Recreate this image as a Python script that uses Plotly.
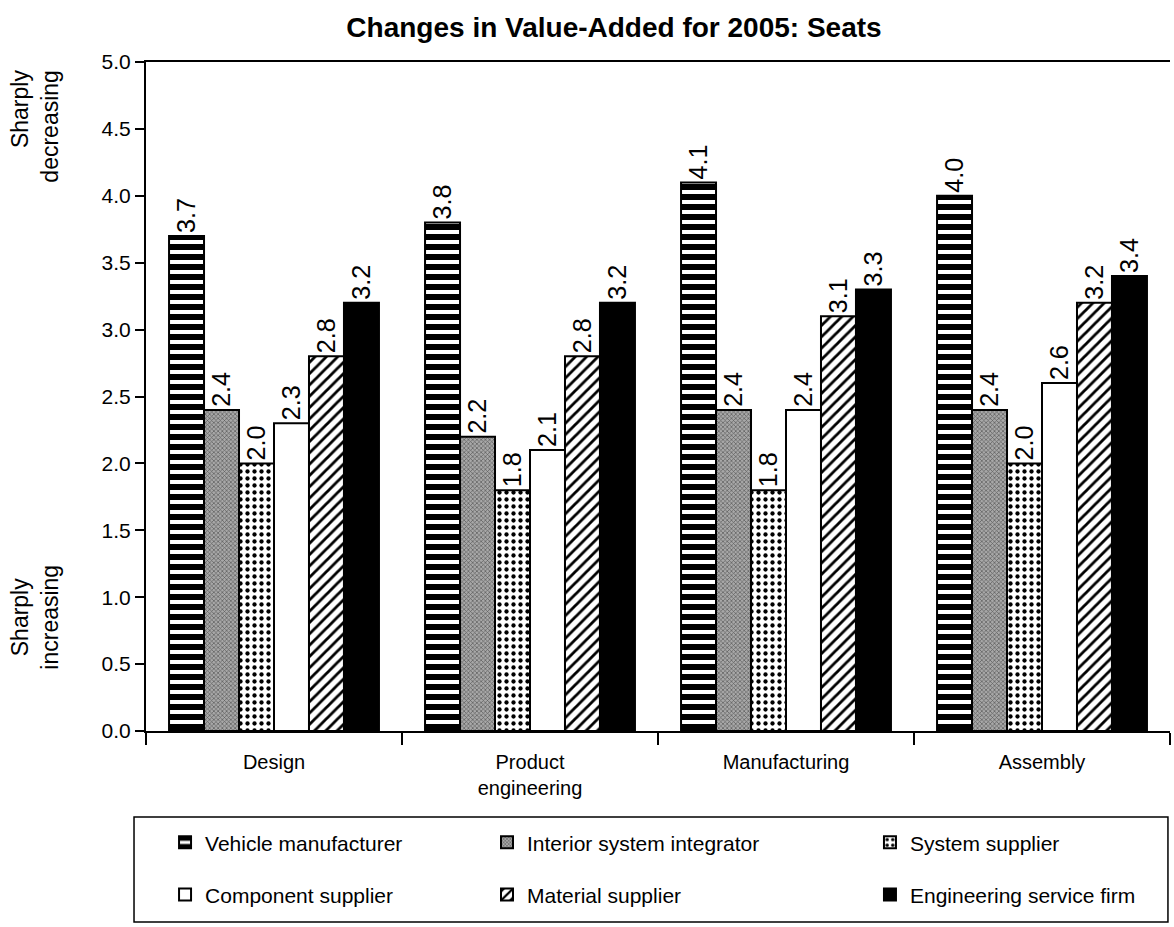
import plotly.graph_objects as go

# Value-chain stages shown on the x axis
stages = ["Design", "Product<br>engineering", "Manufacturing", "Assembly"]

# Mean ratings per actor (1 = sharply increasing ... 5 = sharply decreasing)
vehicle_manufacturer = [3.7, 3.8, 4.1, 4.0]
interior_system_integrator = [2.4, 2.2, 2.4, 2.4]
system_supplier = [2.0, 1.8, 1.8, 2.0]
component_supplier = [2.3, 2.1, 2.4, 2.6]
material_supplier = [2.8, 2.8, 3.1, 3.2]
engineering_service_firm = [3.2, 3.2, 3.3, 3.4]

y_ticks = [0.0, 0.5, 1.0, 1.5, 2.0, 2.5, 3.0, 3.5, 4.0, 4.5, 5.0]

FONT = "Liberation Sans, Arial, Helvetica, sans-serif"
TITLE_FONT = "Liberation Sans Narrow, Arial Narrow, Liberation Sans, sans-serif"

series = [
    ("Vehicle manufacturer", vehicle_manufacturer,
     dict(color="white", pattern=dict(shape="-", fgcolor="black", bgcolor="white",
                                      size=10, solidity=0.6, fillmode="replace"))),
    ("Interior system integrator", interior_system_integrator,
     dict(color="#8c8c8c", pattern=dict(shape="x", fgcolor="#5a5a5a", bgcolor="#a8a8a8",
                                        size=3, solidity=0.4, fillmode="replace"))),
    ("System supplier", system_supplier,
     dict(color="white", pattern=dict(shape=".", fgcolor="black", bgcolor="white",
                                      size=7, solidity=0.3, fillmode="replace"))),
    ("Component supplier", component_supplier,
     dict(color="white")),
    ("Material supplier", material_supplier,
     dict(color="white", pattern=dict(shape="/", fgcolor="black", bgcolor="white",
                                      size=8, solidity=0.35, fillmode="replace"))),
    ("Engineering service firm", engineering_service_firm,
     dict(color="black")),
]

# Each legend entry sits in its own legend so the 3x2 grid can be placed freely
legend_ids = ["legend", "legend2", "legend3", "legend4", "legend5", "legend6"]
legend_pos = [(0.0186, -0.167), (0.333, -0.167), (0.707, -0.167),
              (0.0186, -0.245), (0.333, -0.245), (0.707, -0.245)]

fig = go.Figure()
for (name, vals, marker), lg in zip(series, legend_ids):
    marker = dict(marker)
    marker["line"] = dict(color="black", width=2)
    fig.add_trace(go.Bar(
        name=name, x=stages, y=vals, marker=marker, legend=lg,
        text=[f"{v:.1f}" for v in vals], textposition="outside",
        textangle=-90, textfont=dict(size=26, color="black", family=FONT),
        cliponaxis=False,
    ))

layout_legends = {}
for lg, (lx, ly) in zip(legend_ids, legend_pos):
    layout_legends[lg] = dict(
        x=lx, xanchor="left", y=ly, yanchor="middle",
        bgcolor="rgba(0,0,0,0)", borderwidth=0,
        font=dict(size=21, family=FONT, color="black"), itemwidth=30,
    )

fig.update_layout(
    width=1174, height=927,
    margin=dict(l=146, r=4, t=62, b=196),
    paper_bgcolor="white", plot_bgcolor="white",
    font=dict(family=FONT, color="black", size=20),
    barmode="group", bargap=0.18, bargroupgap=0,
    title=dict(text="<b>Changes in Value-Added for 2005: Seats</b>",
               x=0.523, xref="container", xanchor="center", y=0.971, yanchor="middle",
               font=dict(size=28, family=TITLE_FONT)),
    showlegend=True,
    **layout_legends,
)

# Frame around the legend grid
fig.add_shape(type="rect", xref="paper", yref="paper",
              x0=-0.0117, x1=0.998, y0=-0.2855, y1=-0.1286,
              line=dict(color="black", width=1.5), fillcolor="rgba(0,0,0,0)",
              layer="below")

fig.update_xaxes(
    showline=True, linecolor="black", linewidth=2, mirror=True,
    ticks="outside", tickson="boundaries", ticklen=12, tickwidth=2,
    tickcolor="black", showgrid=False, ticklabelstandoff=12,
    tickfont=dict(size=20, family=FONT),
)
fig.update_yaxes(
    range=[0, 5], tickvals=y_ticks, ticktext=[f"{t:.1f}" for t in y_ticks],
    showline=True, linecolor="black", linewidth=2,
    ticks="outside", ticklen=9, tickwidth=2, tickcolor="black",
    showgrid=False, zeroline=False, tickfont=dict(size=21, family=FONT),
)

# Scale anchors on the left side
fig.add_annotation(text="Sharply<br>decreasing", x=-0.108, xref="paper", y=4.52, yref="y",
                   textangle=-90, showarrow=False, xanchor="center",
                   yanchor="middle", align="right", font=dict(size=23, family=FONT))
fig.add_annotation(text="Sharply<br>increasing", x=-0.108, xref="paper", y=0.85, yref="y",
                   textangle=-90, showarrow=False, xanchor="center",
                   yanchor="middle", align="center", font=dict(size=23, family=FONT))

fig.write_html("out.html")
